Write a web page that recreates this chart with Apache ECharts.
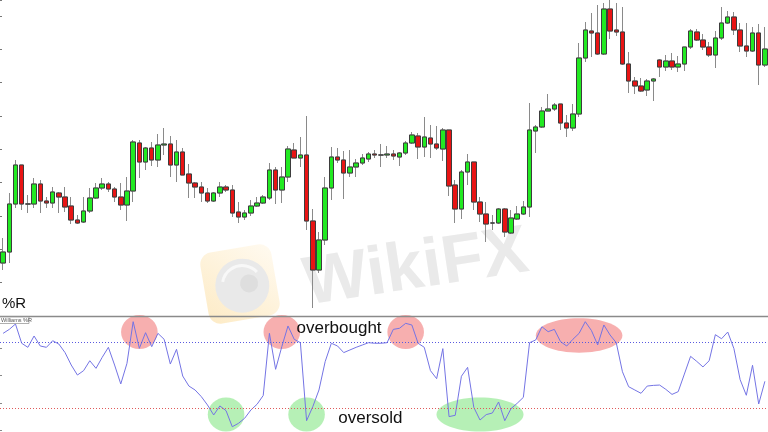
<!DOCTYPE html>
<html><head><meta charset="utf-8">
<script src="https://cdn.jsdelivr.net/npm/echarts@6/dist/echarts.min.js"></script>
<style>html,body{margin:0;padding:0;background:#fff}#c{width:768px;height:432px}</style>
</head><body><div id="c"></div>
<script>
// Candle values (arbitrary price units)
const opens = [53,64,112,151,112,112,132,115,113,123,119,110,96,94,105,118,128,132,127,119,111,125,173,154,168,156,171,172,151,164,142,133,129,123,115,123,129,126,104,99,103,110,113,118,146,126,139,166,158,161,95,46,76,128,159,156,143,149,153,157,162,161,161,162,159,163,173,180,169,178,172,167,186,131,107,144,154,114,102,93,93,107,83,97,102,109,185,189,205,207,212,193,188,202,258,285,283,262,307,286,284,252,235,230,226,235,256,249,255,249,252,269,284,276,269,261,278,293,299,286,270,265,283,251];
const closes = [64,112,151,112,112,132,115,113,124,119,109,96,93,105,118,128,132,127,119,111,125,174,154,168,156,171,172,151,164,141,133,129,123,115,123,129,126,103,99,103,110,113,119,146,126,139,167,158,161,95,46,76,128,159,156,143,149,153,158,162,161,161,162,160,163,173,181,169,179,172,168,186,130,107,144,154,114,102,92,93,107,84,98,102,109,186,189,205,207,211,193,188,202,258,286,283,262,307,285,284,252,235,230,225,235,237,249,255,249,252,269,285,276,269,261,278,293,299,286,270,265,283,251,267];
const lows = [46,53,108,106,103,108,103,108,108,103,104,92,92,93,103,117,126,124,114,106,95,114,138,146,150,149,161,139,134,141,118,118,114,113,114,119,124,99,93,96,100,109,112,116,112,113,134,158,149,86,8,43,71,116,153,117,139,139,151,154,158,149,158,156,150,161,172,157,159,158,166,155,120,93,97,131,106,94,74,86,92,79,82,96,101,99,163,188,205,205,186,179,185,199,254,259,261,261,277,280,251,223,222,224,220,215,239,245,246,244,245,267,275,266,259,248,276,292,281,264,259,264,231,249];
const highs = [78,123,156,151,121,138,136,119,129,124,129,119,101,119,128,133,138,134,129,133,139,176,176,169,174,182,188,180,176,168,152,134,134,128,124,134,131,131,114,106,116,119,121,153,149,149,170,173,179,200,107,84,139,169,168,165,166,157,162,164,166,172,170,166,164,175,184,183,199,191,190,188,186,136,146,162,154,119,114,101,108,108,106,110,115,213,191,209,222,213,212,201,212,273,294,303,311,313,316,313,309,264,239,238,237,238,257,261,263,260,269,287,287,282,274,285,309,305,304,293,293,289,292,289];
// Williams %R values
const williamsR = [-11.5,-7.9,-3,-20.5,-24.2,-13.9,-23,-24.2,-18.2,-21.2,-29,-40.3,-49.4,-45.4,-36.4,-43.3,-33.3,-24.2,-40.3,-57.5,-38.8,-0.9,-25.1,-10.9,-23.6,-11.5,-16.9,-39.4,-26,-50.3,-59.4,-63,-69,-76.6,-85.7,-77.5,-81.8,-96.4,-93.3,-88.7,-81.2,-76,-68,-11.5,-44.2,-23.6,-4.8,-16.9,-20,-90.9,-78.2,-63,-37.2,-20.5,-23,-29,-26.6,-24.2,-22.1,-20,-20.5,-20.5,-20,-7.9,-6.9,-2.4,-3.9,-20.5,-24.2,-45.4,-52.7,-25.4,-87.2,-86,-50.5,-42.4,-78.8,-90.3,-85.4,-83.9,-73.9,-90.9,-80,-75.1,-69.7,-20,-17.5,-5.5,-10,-7.9,-19,-23,-16.9,-11.5,-0.9,-9,-22,-3.9,-13,-20,-46.4,-60,-63,-66,-59.4,-58.8,-58.5,-62.4,-67,-64.5,-48.5,-32.4,-37,-42,-36.4,-12.7,-16.4,-10.3,-25.4,-53.6,-67.8,-40.5,-75.7,-55.1];
const overboughtLevel = -20;
const oversoldLevel = -80;
const wprTicks = [-100, -75, -50, -25, 0];
// highlighted zones: [bar index of centre, %R value of centre, kind]
const zones = [[22.2,-10.3,'ob'],[44.5,-10.3,'ob'],[65.0,-10.3,'ob'],[92.6,-13.5,'obWide'],[36.3,-85.3,'os'],[49.05,-85.3,'os'],[76.8,-85.3,'osWide']];

const categories = opens.map((_, i) => String(i + 1));
const candleData = opens.map((o, i) => [o, closes[i], lows[i], highs[i]]);
const bodyData = opens.map((o, i) => [o, closes[i], Math.min(o, closes[i]), Math.max(o, closes[i])]);

const chart = echarts.init(document.getElementById('c'), null, {renderer: 'canvas'});
const hiddenX = {type: 'category', data: categories, boundaryGap: true, axisLine: {show: false}, axisTick: {show: false}, axisLabel: {show: false}, splitLine: {show: false}};
const FONT = '"Liberation Sans", Arial, sans-serif';
chart.setOption({
  animation: false,
  backgroundColor: '#ffffff',
  grid: [
    {left: -2, right: 0, top: 0, height: 316},
    {left: -2, right: 0, top: 320.7, height: 110}
  ],
  xAxis: [Object.assign({gridIndex: 0}, hiddenX), Object.assign({gridIndex: 1}, hiddenX)],
  yAxis: [
    {type: 'value', gridIndex: 0, min: 0, max: 316, interval: 100 / 3, axisLine: {show: false}, axisLabel: {show: false}, splitLine: {show: false}, axisTick: {show: true, inside: true, length: 2, lineStyle: {color: '#777'}}},
    {type: 'value', gridIndex: 1, min: wprTicks[0], max: wprTicks[wprTicks.length - 1], interval: 25, axisLine: {show: false}, axisLabel: {show: false}, splitLine: {show: false}, axisTick: {show: true, inside: true, length: 2, lineStyle: {color: '#888'}}}
  ],
  series: [
    {type: 'candlestick', name: 'wicks', xAxisIndex: 0, yAxisIndex: 0, data: candleData, barWidth: 5, z: 3,
     itemStyle: {color: '#22ea22', color0: '#e81414', borderColor: '#8a8a8a', borderColor0: '#8a8a8a', borderWidth: 1}},
    {type: 'candlestick', name: 'bodies', xAxisIndex: 0, yAxisIndex: 0, data: bodyData, barWidth: 5, z: 4,
     itemStyle: {color: '#22ea22', color0: '#e81414', borderColor: '#3d3d3d', borderColor0: '#3d3d3d', borderWidth: 1}},
    {type: 'line', name: 'Williams %R', xAxisIndex: 1, yAxisIndex: 1, data: williamsR, symbol: 'none', z: 4,
     lineStyle: {color: '#7474e4', width: 1},
     markLine: {silent: true, symbol: 'none', label: {show: false},
       data: [
         {yAxis: overboughtLevel, lineStyle: {color: '#5a5ae0', type: [1, 2], width: 1}},
         {yAxis: oversoldLevel, lineStyle: {color: '#e05a5a', type: [1, 2], width: 1}}
       ]}}
  ]
});

const zoneStyle = {
  ob: {rx: 18.3, ry: 17, fill: 'rgba(240,110,110,0.55)'},
  obWide: {rx: 43.3, ry: 17.2, fill: 'rgba(240,110,110,0.55)'},
  os: {rx: 18.3, ry: 17, fill: 'rgba(110,225,110,0.5)'},
  osWide: {rx: 43.5, ry: 17, fill: 'rgba(110,225,110,0.5)'}
};
const g = [];
// watermark
g.push({type: 'group', x: 240, y: 284, rotation: 0.17, z: 0, silent: true, children: [
  {type: 'rect', shape: {x: -36, y: -36, width: 72, height: 72, r: 12},
   style: {fill: new echarts.graphic.LinearGradient(0, 1, 1, 0, [{offset: 0, color: '#fdebc6'}, {offset: 1, color: '#fffaf0'}])}},
  {type: 'circle', shape: {cx: 2, cy: 2, r: 27}, style: {fill: '#e9e9e9'}},
  {type: 'arc', shape: {cx: 2, cy: 2, r: 20, startAngle: 3.5, endAngle: 5.7}, style: {stroke: '#f8f8f8', lineWidth: 3, fill: null}},
  {type: 'circle', shape: {cx: 9, cy: 1, r: 9}, style: {fill: '#dedede'}}
]});
g.push({type: 'text', x: 416, y: 269, rotation: 0.15, z: 0, silent: true,
  style: {text: 'WikiFX', font: 'bold 68px ' + FONT, fill: '#eaeaea', align: 'center', verticalAlign: 'middle'}});
// separator
g.push({type: 'line', shape: {x1: 0, y1: 316.5, x2: 768, y2: 316.5}, style: {stroke: '#8a8a8a', lineWidth: 1.5}, z: 6, silent: true});
// zones
zones.forEach(zn => {
  const p = chart.convertToPixel({xAxisIndex: 1, yAxisIndex: 1}, [zn[0], zn[1]]);
  const st = zoneStyle[zn[2]];
  g.push({type: 'ellipse', shape: {cx: p[0], cy: p[1], rx: st.rx, ry: st.ry}, style: {fill: st.fill}, z: 1, silent: true});
});
// labels
g.push({type: 'text', x: 2, y: 303.8, z: 7, silent: true, style: {text: '%R', font: '15px ' + FONT, fill: '#111', verticalAlign: 'middle'}});
g.push({type: 'rect', shape: {x: -1, y: 317, width: 30, height: 6.5}, style: {fill: '#fff', stroke: '#9a9a9a', lineWidth: 0.8}, z: 7, silent: true});
g.push({type: 'text', x: 1, y: 320.3, z: 8, silent: true, style: {text: 'Williams %R', font: '5.5px ' + FONT, fill: '#555', verticalAlign: 'middle'}});
g.push({type: 'text', x: 296.5, y: 328.8, z: 7, silent: true, style: {text: 'overbought', font: '17px ' + FONT, fill: '#111', verticalAlign: 'middle'}});
g.push({type: 'text', x: 338.3, y: 418.8, z: 7, silent: true, style: {text: 'oversold', font: '17px ' + FONT, fill: '#111', verticalAlign: 'middle'}});
chart.setOption({graphic: {elements: g}});
</script></body></html>
